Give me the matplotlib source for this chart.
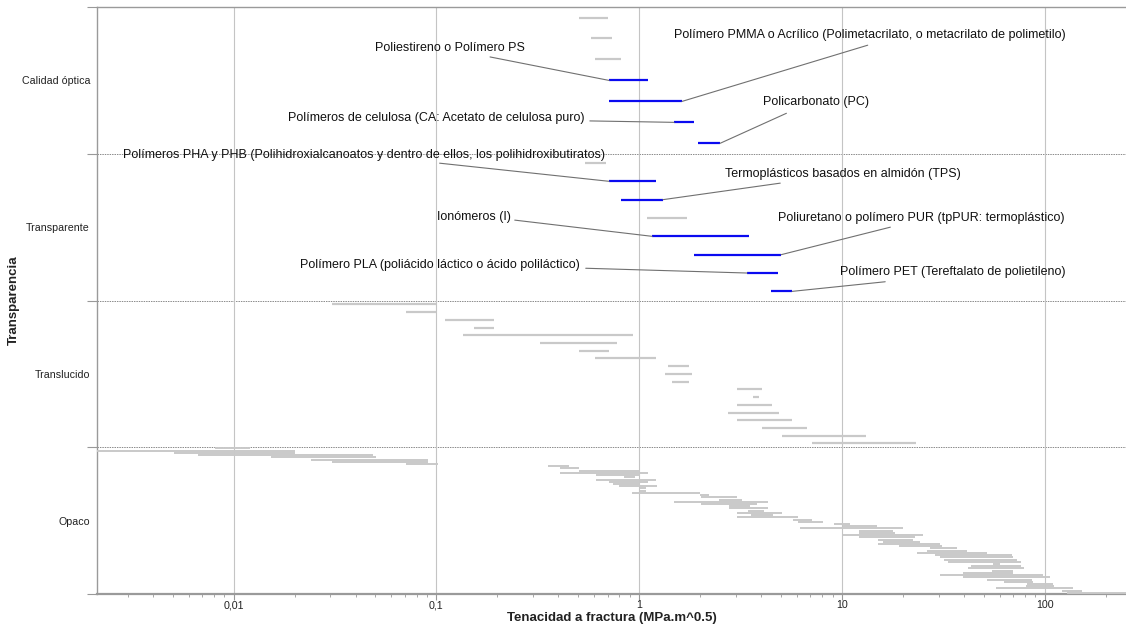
import numpy as np
import matplotlib.pyplot as plt
from matplotlib.ticker import FuncFormatter, LogLocator, NullFormatter

plt.rcParams['font.family'] = ['Liberation Sans', 'DejaVu Sans']

bands = ['Opaco', 'Translucido', 'Transparente', 'Calidad óptica']

# Calidad óptica (top band), rows from top to bottom
optica_lo = [0.506, 0.58, 0.607, 0.711, 0.711, 1.488, 1.953]
optica_hi = [0.703, 0.736, 0.815, 1.108, 1.63, 1.87, 2.51]
optica_blue = [0, 0, 0, 1, 1, 1, 1]

# Transparente
transp_lo = [0.541, 0.711, 0.815, 1.095, 1.16, 1.87, 3.41, 4.48]
transp_hi = [0.688, 1.213, 1.313, 1.725, 3.49, 5.02, 4.85, 5.69]
transp_blue = [0, 1, 1, 0, 1, 1, 1, 1]

# Translucido
transl_lo = [0.0306, 0.071, 0.110, 0.153, 0.135, 0.325, 0.506, 0.607, 1.39, 1.343,
             1.455, 3.04, 3.65, 3.04, 2.74, 3.04, 4.04, 5.07, 7.13]
transl_hi = [0.1, 0.1, 0.193, 0.193, 0.934, 0.779, 0.711, 1.213, 1.765, 1.825,
             1.758, 4.04, 3.91, 4.53, 4.90, 5.69, 6.74, 13.2, 23.2]

# Opaco
opaco_lo = [0.00811, 0.002, 0.00509, 0.00668, 0.01531, 0.0241, 0.0306, 0.071,
            0.356, 0.408, 0.506, 0.408, 0.614, 0.843, 0.614, 0.711, 0.744, 0.797,
            1.01, 1.01, 0.924, 2.00, 2.02, 2.48, 1.488, 2.02, 2.78, 2.78, 3.45,
            3.04, 3.57, 3.04, 5.75, 6.08, 9.16, 10.1, 6.22, 12.2, 12.2, 10.1, 12.2,
            15.1, 16.0, 15.1, 19.2, 27.2, 26.3, 23.5, 28.8, 30.5, 31.9, 33.4, 55.7,
            43.4, 42.0, 55.1, 39.6, 30.5, 39.6, 52.0, 63.1, 82.0, 81.1, 57.7, 122, 129]
opaco_hi = [0.01206, 0.0201, 0.0201, 0.0488, 0.0505, 0.091, 0.091, 0.102,
            0.452, 0.506, 1.01, 1.108, 1.01, 0.956, 1.213, 1.108, 1.01, 1.227,
            1.083, 1.083, 2.00, 2.215, 3.04, 3.22, 4.33, 3.82, 3.53, 4.33, 4.14,
            5.07, 4.58, 6.08, 7.13, 8.08, 10.98, 14.9, 20.0, 17.9, 18.3, 25.2, 23.0,
            22.5, 24.3, 30.5, 31.2, 37.0, 41.5, 52.0, 69.2, 69.9, 73.2, 76.6, 60.3,
            76.6, 79.2, 69.9, 69.9, 98.3, 106, 86.7, 87.7, 110, 111, 138, 153, 260]

labels = [
    ('Poliestireno o Polímero PS', 'optica', 3, 'lo'),
    ('Polímero PMMA o Acrílico (Polimetacrilato, o metacrilato de polimetilo)', 'optica', 4, 'hi'),
    ('Polímeros de celulosa (CA: Acetato de celulosa puro)', 'optica', 5, 'lo'),
    ('Policarbonato (PC)', 'optica', 6, 'hi'),
    ('Polímeros PHA y PHB (Polihidroxialcanoatos y dentro de ellos, los polihidroxibutiratos)', 'transp', 1, 'lo'),
    ('Termoplásticos basados en almidón (TPS)', 'transp', 2, 'hi'),
    ('Ionómeros (I)', 'transp', 4, 'lo'),
    ('Poliuretano o polímero PUR (tpPUR: termoplástico)', 'transp', 5, 'hi'),
    ('Polímero PLA (poliácido láctico o ácido poliláctico)', 'transp', 6, 'lo'),
    ('Polímero PET (Tereftalato de polietileno)', 'transp', 7, 'hi'),
]
# text left/centre and leader start, in axes fraction
label_text_pos = [(0.270, 0.930), (0.561, 0.952), (0.186, 0.811), (0.647, 0.838),
                  (0.025, 0.748), (0.610, 0.715), (0.330, 0.642), (0.662, 0.641),
                  (0.197, 0.560), (0.722, 0.549)]
label_line_pos = [(0.382, 0.915), (0.749, 0.935), (0.479, 0.806), (0.670, 0.819),
                  (0.333, 0.734), (0.664, 0.700), (0.406, 0.637), (0.771, 0.625),
                  (0.475, 0.555), (0.766, 0.532)]

GREY = '#c9c9c9'
BLUE = '#0a0af0'


def draw_band(ax, top, lo, hi, blue=None, lw=1.6):
    n = len(lo)
    y = top - (np.arange(n) + 0.5) / n
    if blue is None:
        blue = [0] * n
    colors = [BLUE if b else GREY for b in blue]
    order = np.argsort(blue)  # grey first, blue on top
    ax.hlines(y[order], np.array(lo)[order], np.array(hi)[order],
              colors=[colors[i] for i in order], lw=lw, zorder=3)
    return y


fig = plt.figure(figsize=(11.26, 6.29), dpi=100)
ax = fig.add_axes([0.0861, 0.0556, 0.9139, 0.9332])
ax.set_xscale('log')

y_opt = draw_band(ax, 4, optica_lo, optica_hi, optica_blue)
y_tp = draw_band(ax, 3, transp_lo, transp_hi, transp_blue)
draw_band(ax, 2, transl_lo, transl_hi)
draw_band(ax, 1, opaco_lo, opaco_hi, lw=1.4)

band_data = {'optica': (y_opt, optica_lo, optica_hi),
             'transp': (y_tp, transp_lo, transp_hi)}

for (txt, band, row, end), tpos, lpos in zip(labels, label_text_pos, label_line_pos):
    ys, lo, hi = band_data[band]
    x = lo[row] if end == 'lo' else hi[row]
    ax.text(tpos[0], tpos[1], txt, transform=ax.transAxes, ha='left', va='center',
            fontsize=9, color='#111111', zorder=5)
    ax.annotate('', xy=(x, ys[row]), xycoords='data', xytext=lpos,
                textcoords='axes fraction',
                arrowprops=dict(arrowstyle='-', color='#707070', lw=0.8,
                                shrinkA=0, shrinkB=0), zorder=4)

ax.set_xlim(0.00212, 252)
ax.set_ylim(0, 4)

# grid
ax.grid(axis='x', which='major', color='#c4c4c4', lw=0.8, zorder=0)
for yb in [1, 2, 3]:
    ax.axhline(yb, color='#8a8a8a', lw=0.7, ls=(0, (1.5, 1)), zorder=1)

ax.xaxis.set_major_locator(LogLocator(base=10))
ax.xaxis.set_minor_locator(LogLocator(base=10, subs=np.arange(2, 10)))
ax.xaxis.set_minor_formatter(NullFormatter())
ax.xaxis.set_major_formatter(FuncFormatter(lambda v, p: ('%g' % v).replace('.', ',')))
ax.tick_params(axis='x', which='major', length=4, color='#999999', labelsize=7.7,
               labelcolor='#222222', pad=0.5)
ax.tick_params(axis='x', which='minor', length=2, color='#999999')

ax.set_yticks([0, 1, 2, 3, 4])
ax.set_yticklabels([])
ax.set_yticks([0.5, 1.5, 2.5, 3.5], minor=True)
ax.set_yticklabels(bands, minor=True)
ax.tick_params(axis='y', which='major', length=7, color='#999999')
ax.tick_params(axis='y', which='minor', length=0, labelsize=7.7, labelcolor='#222222', pad=5)

ax.set_xlabel('Tenacidad a fractura (MPa.m^0.5)', fontsize=9.5, fontweight='bold',
              color='#222222', labelpad=1.5)
ax.set_ylabel('Transparencia', fontsize=9.5, fontweight='bold', color='#222222',
              labelpad=1)

for side in ['left', 'top']:
    ax.spines[side].set_color('#9a9a9a')
    ax.spines[side].set_linewidth(1.0)
ax.spines['bottom'].set_color('#9a9a9a')
ax.spines['bottom'].set_linewidth(1.6)
ax.spines['right'].set_visible(False)

fig.savefig('out.png', dpi=100)
